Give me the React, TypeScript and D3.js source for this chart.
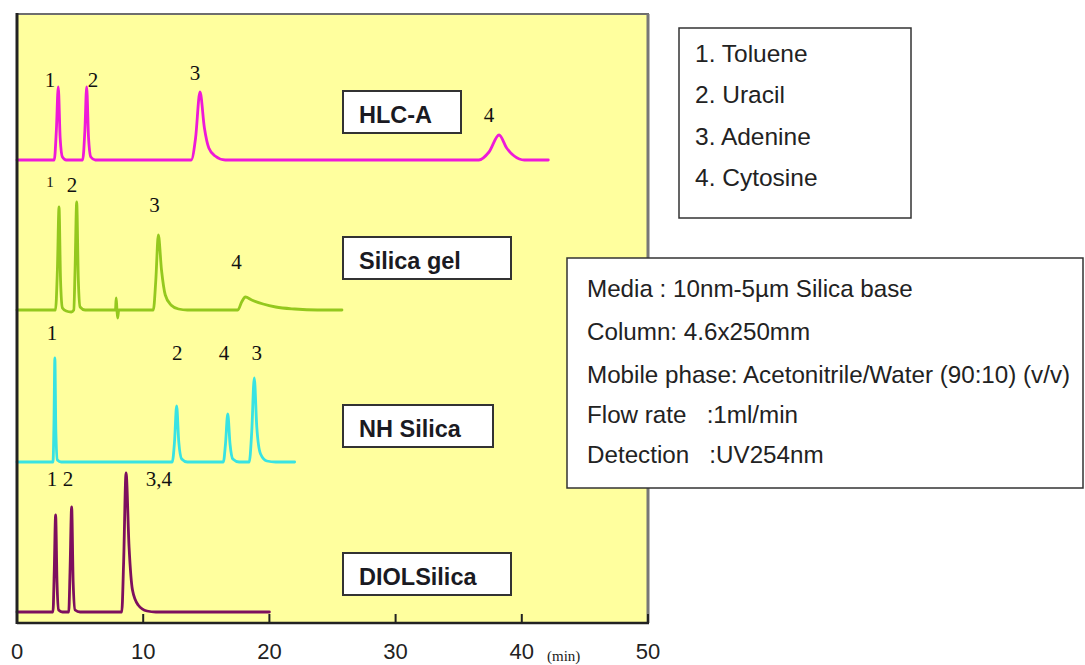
import React from "react";
import * as d3 from "d3";

// ---------- data (time in min, signal in arbitrary units) ----------
const xTicks = [0, 10, 20, 30, 40, 50];
const xUnit = "(min)";

const columns = ["HLC-A", "Silica gel", "NH Silica", "DIOLSilica"];

const hlcATrace: [number, number][] = [
  [0, 0], [2.95, 0], [3.12, 30], [3.27, 73], [3.42, 22], [3.6, 3], [3.9, 0],
  [5.2, 0], [5.38, 30], [5.52, 73], [5.67, 22], [5.85, 3], [6.2, 0],
  [13.8, 0], [14.15, 22], [14.5, 68], [14.85, 32], [15.2, 12], [15.7, 4], [16.5, 0],
  [36.6, 0], [37.4, 8], [38.2, 25], [38.8, 12], [39.4, 4], [40.2, 0], [42.1, 0],
];
const silicaGelTrace: [number, number][] = [
  [0, 0], [3.05, 0], [3.2, 40], [3.33, 103], [3.45, 30], [3.6, 2], [3.9, -1], [4.3, -2],
  [4.5, 0], [4.6, 40], [4.73, 108], [4.86, 30], [5.0, 3], [5.4, 0],
  [7.8, 0], [7.86, 12], [7.92, 0], [7.98, -8], [8.06, 0],
  [10.8, 0], [11.0, 30], [11.2, 75], [11.45, 40], [11.75, 15], [12.2, 5], [12.8, 1], [13.5, 0],
  [17.5, 0], [17.8, 8], [18.1, 13], [18.6, 10], [19.5, 6], [20.5, 3], [22, 1], [23.8, 0], [25.75, 0],
];
const nhSilicaTrace: [number, number][] = [
  [0, 0], [2.85, 0], [2.93, 40], [3.0, 104], [3.08, 30], [3.2, 2], [3.5, 0],
  [12.3, 0], [12.48, 20], [12.65, 56], [12.82, 20], [13.05, 3], [13.5, 0],
  [16.35, 0], [16.52, 18], [16.7, 48], [16.88, 18], [17.1, 3], [17.6, 0],
  [18.4, 0], [18.6, 30], [18.8, 84], [19.0, 35], [19.3, 8], [19.8, 1], [20.5, 0], [22.0, 0],
];
const diolSilicaTrace: [number, number][] = [
  [0, 0], [2.85, 0], [2.95, 40], [3.06, 97], [3.17, 30], [3.3, 2], [3.6, 0],
  [4.1, 0], [4.2, 40], [4.33, 105], [4.45, 30], [4.6, 2], [5.0, 0],
  [8.3, 0], [8.45, 50], [8.64, 139], [8.88, 65], [9.15, 22], [9.6, 7], [10.3, 1], [11, 0], [20, 0],
];

// peak labels: [text, time, signal level of label centre]
const hlcALabels: [string, number, number][] = [["1", 2.62, 80], ["2", 6.02, 80], ["3", 14.1, 87], ["4", 37.4, 45]];
const silicaGelLabels: [string, number, number][] = [["1", 2.62, 128], ["2", 4.36, 125], ["3", 10.9, 105], ["4", 17.4, 48]];
const nhSilicaLabels: [string, number, number][] = [["1", 2.77, 129], ["2", 12.7, 109], ["4", 16.4, 109], ["3", 19.0, 109]];
const diolSilicaLabels: [string, number, number][] = [["1", 2.77, 133], ["2", 4.04, 133], ["3,4", 11.25, 133]];

const compounds = ["1. Toluene", "2. Uracil", "3. Adenine", "4. Cytosine"];
const conditions = [
  "Media : 10nm-5\u00b5m Silica base",
  "Column: 4.6x250mm",
  "Mobile phase: Acetonitrile/Water (90:10) (v/v)",
  "Flow rate   :1ml/min",
  "Detection   :UV254nm",
];

// ---------- layout / style ----------
const W = 1085, H = 665;
const plot = { left: 17, right: 648, top: 14, bottom: 623 };
const baselines = [160, 310, 462, 612];
const colors = ["#ee1ad8", "#94c81e", "#38e3e3", "#7d0f5e"];
const boxes = [
  { x: 343, y: 91, w: 118, h: 42 },
  { x: 343, y: 237, w: 168, h: 42 },
  { x: 343, y: 405, w: 150, h: 42 },
  { x: 343, y: 553, w: 168, h: 42 },
];
const sans = "'Liberation Sans', Arial, sans-serif";
const serif = "'Liberation Serif', 'Times New Roman', serif";

export default function App() {
  const traces = [hlcATrace, silicaGelTrace, nhSilicaTrace, diolSilicaTrace];
  const labels = [hlcALabels, silicaGelLabels, nhSilicaLabels, diolSilicaLabels];
  const x = d3.scaleLinear().domain([0, 50]).range([plot.left, plot.right]);

  return (
    <svg width={W} height={H} style={{ position: "absolute", left: 0, top: 0, background: "#fff" }}>
      {/* plot background */}
      <rect x={plot.left} y={plot.top} width={plot.right - plot.left} height={plot.bottom - plot.top} fill="#ffff9e" />
      <line x1={plot.left} x2={plot.right + 1} y1={plot.top} y2={plot.top} stroke="#6e6e6e" strokeWidth={2} />
      <line x1={plot.right} x2={plot.right} y1={plot.top} y2={plot.bottom} stroke="#777" strokeWidth={3} />

      {/* traces */}
      {traces.map((tr, i) => {
        const y = d3.scaleLinear().domain([0, 100]).range([baselines[i], baselines[i] - 100]);
        const line = d3.line<[number, number]>().x(d => x(d[0])).y(d => y(d[1])).curve(d3.curveMonotoneX);
        return (
          <g key={i}>
            <path d={line(tr) || ""} fill="none" stroke={colors[i]} strokeWidth={2.8} strokeLinejoin="round" strokeLinecap="round" />
            {labels[i].map(([t, tm, lv], j) => (
              <text key={j} x={x(tm)} y={y(lv)} dy="0.35em" textAnchor="middle" fontFamily={serif}
                fontSize={i === 1 && j === 0 ? 15 : 21} fill="#111">{t}</text>
            ))}
          </g>
        );
      })}

      {/* column name boxes */}
      {columns.map((c, i) => (
        <g key={c}>
          <rect x={boxes[i].x} y={boxes[i].y} width={boxes[i].w} height={boxes[i].h} fill="#fff" stroke="#333" strokeWidth={2} />
          <text x={boxes[i].x + 16} y={boxes[i].y + 32} fontFamily={sans} fontWeight="bold" fontSize={23.5} fill="#1a1a22">{c}</text>
        </g>
      ))}

      {/* axes */}
      <line x1={plot.left} x2={plot.left} y1={plot.top - 1} y2={plot.bottom + 1} stroke="#222" strokeWidth={3} />
      <line x1={plot.left} x2={plot.right + 1} y1={plot.bottom} y2={plot.bottom} stroke="#222" strokeWidth={2.5} />
      {xTicks.map(t => (
        <g key={t}>
          {t > 0 && <line x1={x(t)} x2={x(t)} y1={plot.bottom} y2={plot.bottom - 9} stroke="#222" strokeWidth={2} />}
          <text x={x(t)} y={659} textAnchor="middle" fontFamily={sans} fontSize={22} fill="#222">{t}</text>
        </g>
      ))}
      <text x={547} y={661} fontFamily={serif} fontSize={15} fill="#222">{xUnit}</text>

      {/* compound legend */}
      <rect x={679} y={28} width={232} height={190} fill="#fff" stroke="#333" strokeWidth={1.5} />
      {compounds.map((c, i) => (
        <text key={c} x={695} y={62 + i * 41.3} fontFamily={sans} fontSize={24.5} fill="#222">{c}</text>
      ))}

      {/* conditions box */}
      <rect x={567} y={258} width={516} height={230} fill="#fff" stroke="#333" strokeWidth={1.5} />
      {conditions.map((c, i) => (
        <text key={i} x={587} y={[297, 340, 383, 423, 463][i]} fontFamily={sans} fontSize={24.2} fill="#222"
          style={{ whiteSpace: "pre" }}>{c}</text>
      ))}
    </svg>
  );
}
